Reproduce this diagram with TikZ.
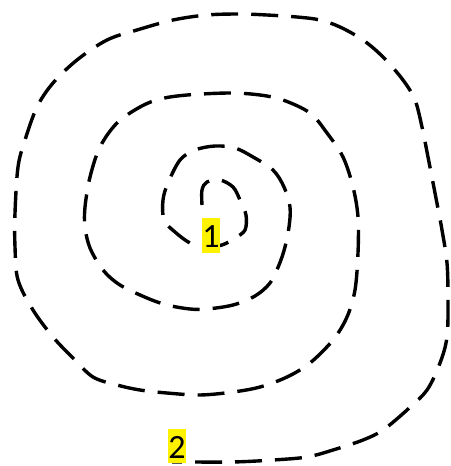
\documentclass[tikz,border=0pt]{standalone}
\usepackage{fontspec}
\newfontfamily\labelfont{Carlito}
\begin{document}
\begin{tikzpicture}[x=1pt,y=-1pt,
  spiral/.style={line width=3.4pt,line cap=butt,dash pattern=on 27pt off 13pt},
  hilite/.style={fill=yellow,inner xsep=0.5pt,inner ysep=0pt,text height=29pt,text depth=6pt,
    font=\labelfont\fontsize{34}{34}\selectfont}]
\useasboundingbox (0,0) rectangle (450,466);
\draw[spiral] plot[smooth,tension=0.55] coordinates {
(202,205) (202,190) (207,182) (220,180) (233,187) (240,200) (246,215) (245,230)
(235,238) (222,245) (205,247) (190,243) (175,232) (164,220) (163,200) (168,183)
(180,160) (195,150) (215,146) (235,148) (253,157) (273,170) (284,187) (290,207)
(289,227) (285,247) (279,265) (270,283) (255,296) (233,305) (207,309) (190,309)
(167,305) (147,298) (120,285) (103,270) (90,248) (85,227) (85,207) (90,177)
(100,147) (117,123) (140,107) (160,99) (187,95) (230,93) (260,95) (283,100)
(310,113) (327,133) (343,157) (353,187) (358,217) (358,253) (355,290) (347,317)
(333,340) (310,363) (287,377) (260,387) (233,392) (200,395) (167,393) (140,390)
(117,385) (93,377) (73,358) (53,337) (33,310) (18,280) (15,247) (15,213)
(18,167) (25,140) (37,107) (53,83) (77,60) (107,40) (137,30) (173,20)
(207,15) (240,14) (267,15) (297,17) (320,20) (340,27) (363,40) (383,57)
(403,80) (415,100) (422,127) (428,157) (435,193) (442,230) (447,263) (448,300)
(447,337) (440,363) (427,390) (407,410) (383,430) (363,440) (333,450) (307,457)
(273,460) (233,462) (193,462) (172,462)};
\node[hilite,anchor=base] (one) at (211,247) {1};
\node[hilite,anchor=base,text depth=5pt] (two) at (177,458) {2};
\end{tikzpicture}
\end{document}
